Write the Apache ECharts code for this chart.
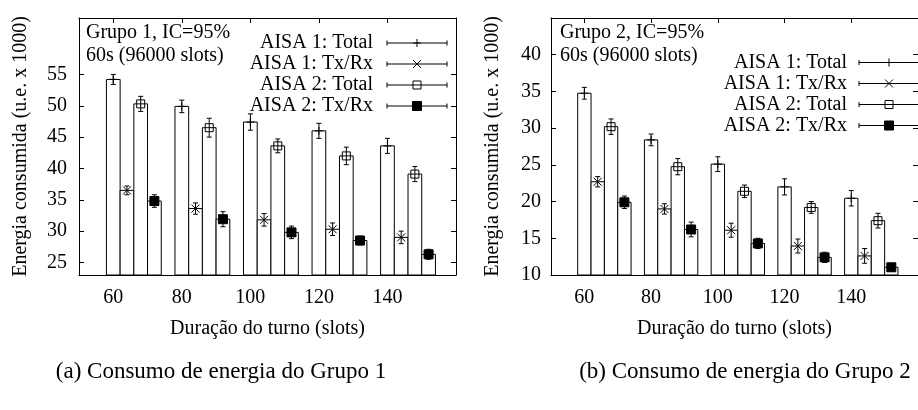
<!DOCTYPE html>
<html><head><meta charset="utf-8">
<script src="https://cdn.jsdelivr.net/npm/echarts@6/dist/echarts.min.js"></script>
<style>html,body{margin:0;padding:0;background:#fff}#c{width:918px;height:410px}</style>
</head><body><div id="c"></div>
<script>
// ---------- data ----------
const categories = [60, 80, 100, 120, 140];
const seriesNames = ['AISA 1: Total', 'AISA 1: Tx/Rx', 'AISA 2: Total', 'AISA 2: Tx/Rx'];
const xTickValues = [60, 80, 100, 120, 140];
const g1YTickValues = [25, 30, 35, 40, 45, 50, 55];
const g2YTickValues = [10, 15, 20, 25, 30, 35, 40];

// Grupo 1
const g1Aisa1Total    = [54.2, 49.9, 47.4, 46.0, 43.6];
const g1Aisa1TotalErr = [0.8, 1.0, 1.3, 1.2, 1.2];
const g1Aisa1TxRx     = [36.5, 33.6, 31.8, 30.3, 29.0];
const g1Aisa1TxRxErr  = [0.7, 0.9, 1.0, 1.0, 1.0];
const g1Aisa2Total    = [50.3, 46.5, 43.6, 42.0, 39.1];
const g1Aisa2TotalErr = [1.2, 1.5, 1.1, 1.4, 1.2];
const g1Aisa2TxRx     = [34.8, 31.9, 29.8, 28.5, 26.3];
const g1Aisa2TxRxErr  = [1.0, 1.2, 1.0, 0.7, 0.8];

// Grupo 2
const g2Aisa1Total    = [34.75, 28.4, 25.1, 22.0, 20.45];
const g2Aisa1TotalErr = [0.8, 0.8, 1.0, 1.1, 1.05];
const g2Aisa1TxRx     = [22.7, 19.0, 16.1, 13.95, 12.6];
const g2Aisa1TxRxErr  = [0.7, 0.7, 0.95, 0.95, 1.0];
const g2Aisa2Total    = [30.2, 24.75, 21.4, 19.2, 17.4];
const g2Aisa2TotalErr = [1.05, 1.1, 0.85, 0.8, 1.0];
const g2Aisa2TxRx     = [19.9, 16.2, 14.3, 12.4, 11.05];
const g2Aisa2TxRxErr  = [0.85, 1.0, 0.7, 0.7, 0.5];

const titleLines1 = ['Grupo 1, IC=95%', '60s (96000 slots)'];
const titleLines2 = ['Grupo 2, IC=95%', '60s (96000 slots)'];
const captions = ['(a) Consumo de energia do Grupo 1', '(b) Consumo de energia do Grupo 2'];
const xName = 'Duração do turno (slots)';
const yName = 'Energia consumida (u.e. x 1000)';

// ---------- style ----------
const FONT_FAMILY = '"Liberation Serif", "Times New Roman", serif';
const INK = '#000';
const barOffsets = [0, 4, 8, 12];   // x offset of each series inside a group (axis units)
const barHalf = 2;                  // half bar width (axis units)
const markerKinds = ['plus', 'cross', 'box', 'fbox'];

function markerShapes(kind, cx, cy) {
  const s = 4;
  const st = { stroke: INK, lineWidth: 1, fill: 'none' };
  if (kind === 'plus') return [
    { type: 'line', shape: { x1: cx - s, y1: cy, x2: cx + s, y2: cy }, style: st },
    { type: 'line', shape: { x1: cx, y1: cy - s, x2: cx, y2: cy + s }, style: st }];
  if (kind === 'cross') return [
    { type: 'line', shape: { x1: cx - s, y1: cy - s, x2: cx + s, y2: cy + s }, style: st },
    { type: 'line', shape: { x1: cx - s, y1: cy + s, x2: cx + s, y2: cy - s }, style: st }];
  if (kind === 'box') return [
    { type: 'rect', shape: { x: cx - s, y: cy - s, width: 2 * s, height: 2 * s }, style: st }];
  return [{ type: 'rect', shape: { x: cx - 4.5, y: cy - 4.5, width: 9, height: 9 }, style: { fill: INK, stroke: INK, lineWidth: 1 } }];
}

function makeSeries(idx, vals, errs, gi) {
  return {
    type: 'custom',
    name: seriesNames[idx],
    xAxisIndex: gi * 2,
    yAxisIndex: gi * 2,
    clip: false,
    encode: { x: 0, y: 1 },
    data: categories.map((c, i) => [c, vals[i], errs[i]]),
    renderItem(params, api) {
      const x = api.value(0) + barOffsets[idx];
      const v = api.value(1), e = api.value(2);
      const cs = params.coordSys;
      const bottom = cs.y + cs.height;
      const tl = api.coord([x - barHalf, v]);
      const tr = api.coord([x + barHalf, v]);
      const c = api.coord([x, v]);
      const lo = api.coord([x, v - e]);
      const hi = api.coord([x, v + e]);
      const lw = { stroke: INK, lineWidth: 1 };
      const children = [
        { type: 'rect', shape: { x: tl[0], y: tl[1], width: tr[0] - tl[0], height: bottom - tl[1] },
          style: { fill: '#fff', stroke: INK, lineWidth: 1 } },
        { type: 'line', shape: { x1: c[0], y1: lo[1], x2: c[0], y2: hi[1] }, style: lw },
        { type: 'line', shape: { x1: c[0] - 2.5, y1: lo[1], x2: c[0] + 2.5, y2: lo[1] }, style: lw },
        { type: 'line', shape: { x1: c[0] - 2.5, y1: hi[1], x2: c[0] + 2.5, y2: hi[1] }, style: lw }
      ].concat(markerShapes(markerKinds[idx], c[0], c[1]));
      return { type: 'group', children };
    }
  };
}

const labelStyle = { fontFamily: FONT_FAMILY, fontSize: 20, color: INK };
const axisLineStyle = { show: true, lineStyle: { color: INK, width: 1 } };

function xAxes(gi) {
  return [
    { gridIndex: gi, type: 'value', min: 50, max: 160, position: 'bottom',
      axisLine: axisLineStyle, splitLine: { show: false },
      axisTick: { show: true, inside: true, length: 5, customValues: xTickValues, lineStyle: { color: INK } },
      axisLabel: Object.assign({ customValues: xTickValues, margin: 13 }, labelStyle),
      name: xName, nameLocation: 'middle', nameGap: 44,
      nameTextStyle: { fontFamily: FONT_FAMILY, fontSize: 20, color: INK } },
    { gridIndex: gi, type: 'value', min: 50, max: 160, position: 'top',
      axisLine: axisLineStyle, splitLine: { show: false },
      axisTick: { show: true, inside: true, length: 5, customValues: xTickValues, lineStyle: { color: INK } },
      axisLabel: { show: false } }
  ];
}
function yAxes(gi, min, max, ticks, margin) {
  return [
    { gridIndex: gi, type: 'value', min, max, position: 'left',
      axisLine: axisLineStyle, splitLine: { show: false },
      axisTick: { show: true, inside: true, length: 5, customValues: ticks, lineStyle: { color: INK } },
      axisLabel: Object.assign({ customValues: ticks, margin }, labelStyle),
      name: yName, nameLocation: 'middle', nameGap: 48,
      nameTextStyle: { fontFamily: FONT_FAMILY, fontSize: 20, color: INK } },
    { gridIndex: gi, type: 'value', min, max, position: 'right',
      axisLine: axisLineStyle, splitLine: { show: false },
      axisTick: { show: true, inside: true, length: 5, customValues: ticks, lineStyle: { color: INK } },
      axisLabel: { show: false } }
  ];
}

function txt(text, x, y, align, size) {
  return { type: 'text', silent: true,
    style: { text, x, y, fill: INK, font: (size || 20) + 'px ' + FONT_FAMILY,
      align: align, textAlign: align, verticalAlign: 'middle', textVerticalAlign: 'middle' } };
}
function legendBlock(textRight, lineX0, lineX1, y0, step) {
  const els = [];
  seriesNames.forEach((n, i) => {
    const y = y0 + i * step;
    const mx = (lineX0 + lineX1) / 2;
    els.push(txt(n, textRight, y, 'right'));
    const lw = { stroke: INK, lineWidth: 1 };
    els.push({ type: 'line', silent: true, shape: { x1: lineX0, y1: y, x2: lineX1, y2: y }, style: lw });
    els.push({ type: 'line', silent: true, shape: { x1: lineX0, y1: y - 2.5, x2: lineX0, y2: y + 2.5 }, style: lw });
    els.push({ type: 'line', silent: true, shape: { x1: lineX1, y1: y - 2.5, x2: lineX1, y2: y + 2.5 }, style: lw });
    markerShapes(markerKinds[i], mx, y).forEach(m => { m.silent = true; els.push(m); });
  });
  return els;
}

const graphics = [].concat(
  [txt(titleLines1[0], 86, 33, 'left'), txt(titleLines1[1], 86, 56, 'left')],
  [txt(titleLines2[0], 560, 33, 'left'), txt(titleLines2[1], 560, 56, 'left')],
  legendBlock(373, 387, 447, 43, 21),
  legendBlock(847, 859, 919, 62.5, 21),
  [txt(captions[0], 221, 372, 'center', 23), txt(captions[1], 745, 372, 'center', 23)]
);

const chart = echarts.init(document.getElementById('c'), null, { renderer: 'canvas' });
chart.setOption({
  animation: false,
  backgroundColor: '#fff',
  grid: [
    { left: 79, top: 18, width: 377, height: 257 },
    { left: 551, top: 18, width: 377, height: 257 }
  ],
  xAxis: xAxes(0).concat(xAxes(1)),
  yAxis: yAxes(0, 23, 64, g1YTickValues, 12).concat(yAxes(1, 10, 45, g2YTickValues, 10)),
  series: [
    makeSeries(0, g1Aisa1Total, g1Aisa1TotalErr, 0),
    makeSeries(1, g1Aisa1TxRx, g1Aisa1TxRxErr, 0),
    makeSeries(2, g1Aisa2Total, g1Aisa2TotalErr, 0),
    makeSeries(3, g1Aisa2TxRx, g1Aisa2TxRxErr, 0),
    makeSeries(0, g2Aisa1Total, g2Aisa1TotalErr, 1),
    makeSeries(1, g2Aisa1TxRx, g2Aisa1TxRxErr, 1),
    makeSeries(2, g2Aisa2Total, g2Aisa2TotalErr, 1),
    makeSeries(3, g2Aisa2TxRx, g2Aisa2TxRxErr, 1)
  ],
  graphic: { elements: graphics }
});
</script></body></html>
